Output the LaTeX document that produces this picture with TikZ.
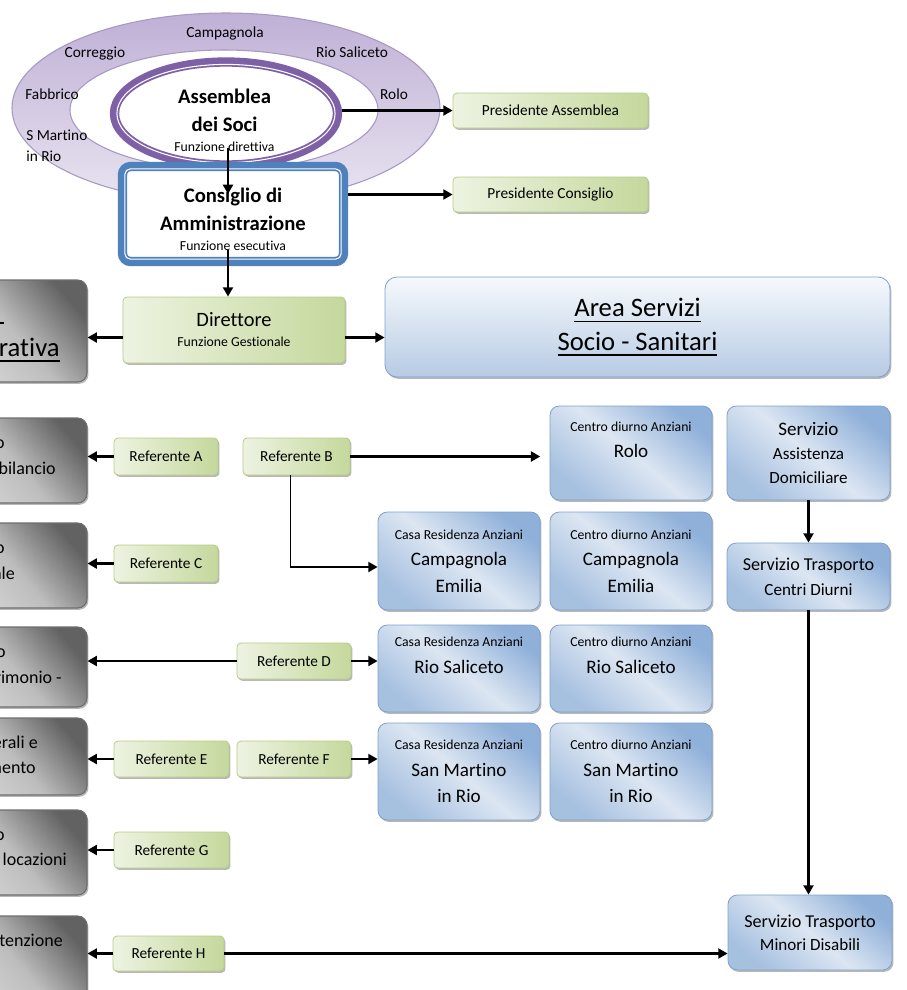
\documentclass[tikz,border=0pt]{standalone}
\usepackage{fontspec}
\setmainfont{Carlito}[Ligatures=NoCommon]
\usetikzlibrary{arrows.meta,shadows,shapes.geometric}
\definecolor{ringA}{HTML}{BFB0D6}
\definecolor{ringB}{HTML}{E9E4F0}
\definecolor{ringD}{HTML}{A898C2}
\definecolor{assemD}{HTML}{7D60A6}
\definecolor{consD}{HTML}{4F81BD}
\definecolor{grnL}{HTML}{EDF3E1}
\definecolor{grnR}{HTML}{C5D89C}
\definecolor{grnD}{HTML}{B5CC85}
\definecolor{bluT}{HTML}{8FB0D9}
\definecolor{bluM}{HTML}{DCE6F2}
\definecolor{bluB}{HTML}{A6C0E0}
\definecolor{bluD}{HTML}{7FA0CC}
\definecolor{areaT}{HTML}{F6F9FC}
\definecolor{areaB}{HTML}{B7CBE4}
\definecolor{gryT}{HTML}{626262}
\definecolor{gryM}{HTML}{BDBDBD}
\definecolor{gryB}{HTML}{D8D8D8}
\definecolor{gryD}{HTML}{6E6E6E}
\newcommand\fzS{\fontsize{10.3pt}{12pt}\selectfont}
\newcommand\fzM{\fontsize{11.5pt}{14pt}\selectfont}
\newcommand\fzX{\fontsize{14.3pt}{17pt}\selectfont}
\newcommand\fzG{\fontsize{13.5pt}{17pt}\selectfont}
\newcommand\fzH{\fontsize{20pt}{24pt}\selectfont}
\newcommand\myul[1]{\setbox0\hbox{#1}\rlap{\rule[-4.2pt]{\wd0}{1.3pt}}\box0}
\begin{document}
\begin{tikzpicture}[x=0.75pt,y=-0.75pt,
  sz/.style 2 args={minimum width=#1*0.75pt, minimum height=#2*0.75pt},
  arr/.style={-{Triangle[length=7pt,width=7.5pt]}, line width=1.6pt},
  shd/.style={drop shadow={shadow xshift=1.1pt, shadow yshift=-1.4pt, fill=black, opacity=0.28}},
  lbl/.style={font=\fzM, inner sep=0pt},
  grn/.style={draw=grnD, line width=0.6pt, rounded corners=3pt, left color=grnL, right color=grnR, shd, inner sep=0pt, font=\fzM, align=center},
  svc/.style={draw=bluD, line width=0.6pt, rounded corners=7pt, top color=bluT, bottom color=bluB, middle color=bluM, shading angle=-40, shd, inner sep=0pt, align=center},
  gry/.style={draw=gryD, line width=0.8pt, rounded corners=7pt, top color=gryT, bottom color=gryB, middle color=gryM, shading angle=-50, shd, inner sep=0pt},
  gtxt/.style={font=\fzG, anchor=base east, inner sep=0pt},
]
\useasboundingbox (0,0) rectangle (907,990);

% ---- ring of municipalities
\shade[even odd rule, top color=ringA, bottom color=ringB, draw=ringD, line width=0.8pt]
  (226,108) ellipse [x radius=214, y radius=95]
  (224,110) ellipse [x radius=154, y radius=60];
\node[lbl, anchor=base] (lCamp) at (225,37) {Campagnola};
\node[lbl, anchor=base] (lCorr) at (95,57) {Correggio};
\node[lbl, anchor=base] (lRioS) at (352,57) {Rio Saliceto};
\node[lbl, anchor=base] (lFabb) at (52,99) {Fabbrico};
\node[lbl, anchor=base] (lRolo) at (394,99) {Rolo};
\node[lbl, anchor=base west] (lSMar) at (26,140) {S Martino};
\node[lbl, anchor=base west] (lInRio) at (26,161) {in Rio};

% ---- Assemblea
\node[ellipse, minimum width=223*0.75pt, minimum height=103*0.75pt, draw=assemD, line width=7pt, fill=white, inner sep=0pt] (assem) at (226,113.5) {};
\draw[white, line width=0.8pt] (226,113.5) ellipse [x radius=109.1, y radius=49.1];
\node[align=center, inner sep=0pt, font=\fontsize{15.5pt}{21pt}\selectfont\bfseries] (assemT) at (224.5,120.7)
  {Assemblea\\dei Soci\\[-6pt]{\fzS\mdseries Funzione direttiva}};

% ---- Consiglio
\node[rectangle, rounded corners=6pt, sz={221}{95}, draw=consD, line width=7pt, fill=white, inner sep=0pt] (cons) at (233,214) {};
\draw[white, line width=0.8pt, rounded corners=4pt] (124.9,168.9) rectangle (341.1,259.1);
\node[align=center, inner sep=0pt, font=\fontsize{15.5pt}{21pt}\selectfont\bfseries] (consT) at (233,218.8)
  {Consiglio di\\Amministrazione\\[-6pt]{\fzS\mdseries Funzione esecutiva}};

% ---- presidents and director
\node[grn, sz={195}{35}] (presA) at (550.5,110.5) {Presidente Assemblea};
\node[grn, sz={195}{35}] (presC) at (550.5,194.5) {Presidente Consiglio};
\node[grn, sz={222}{66}, font=\fontsize{15.3pt}{15pt}\selectfont] (dir) at (234,330) {Direttore\\{\fzS Funzione Gestionale}};

% ---- grey administrative boxes (cut by the left edge)
\node[gry, sz={147}{102}] (amm) at (13.5,331) {};
\node[gtxt, font=\fzH] (ammT1) at (4,318) {\myul{Area\ }};
\node[gtxt, font=\fzH] (ammT2) at (60,356) {\myul{Amministrativa}};
\node[gry, sz={147}{85}] (gA) at (13.5,460.5) {};
\node[gtxt] (gAT1) at (5,448) {Servizio};
\node[gtxt] (gAT2) at (56,474) {Contabilità e bilancio};
\node[gry, sz={147}{85}] (gC) at (13.5,565.5) {};
\node[gtxt] (gCT1) at (5,553) {Servizio};
\node[gtxt] (gCT2) at (15,579) {Personale};
\node[gry, sz={147}{80}] (gD) at (13.5,667) {};
\node[gtxt] (gDT1) at (6,657) {Servizio};
\node[gtxt] (gDT2) at (62,683) {Patrimonio -};
\node[gry, sz={147}{77}] (gE) at (13.5,756.5) {};
\node[gtxt] (gET1) at (38,748) {Servizi Generali e};
\node[gtxt] (gET2) at (36,773) {Approvvigionamento};
\node[gry, sz={147}{85}] (gG) at (13.5,852.5) {};
\node[gtxt] (gGT1) at (5,840) {Servizio};
\node[gtxt] (gGT2) at (67,865) {Contratti e locazioni};
\node[gry, sz={147}{84}] (gH) at (13.5,958) {};
\node[gtxt] (gHT1) at (63,946) {Manutenzione};

% ---- referents
\node[grn, sz={104}{37}] (refA) at (166,456.5) {Referente A};
\node[grn, sz={107}{37}] (refB) at (296.5,456.5) {Referente B};
\node[grn, sz={104}{37}] (refC) at (166,563.5) {Referente C};
\node[grn, sz={114}{36}] (refD) at (294,661) {Referente D};
\node[grn, sz={115}{36}] (refE) at (171.5,759) {Referente E};
\node[grn, sz={114}{36}] (refF) at (294,759) {Referente F};
\node[grn, sz={115}{36}] (refG) at (171.5,850) {Referente G};
\node[grn, sz={111}{35}] (refH) at (168.5,953.5) {Referente H};

% ---- socio-sanitary area
\node[draw=bluD, line width=0.6pt, rounded corners=9pt, top color=areaT, bottom color=areaB, shd, sz={505}{100}, align=center, inner sep=0pt, font=\fontsize{20pt}{25pt}\selectfont] (area) at (637.5,327)
  {\myul{Area Servizi}\\\myul{Socio - Sanitari}};
\node[svc, sz={162}{94}, font=\fontsize{14.3pt}{20pt}\selectfont, text depth=20pt] (cdRolo) at (631,453) {{\fzS Centro diurno Anziani}\\Rolo};
\node[svc, sz={163}{94}, font=\fontsize{12.8pt}{18pt}\selectfont] (sad) at (808.5,453) {{\fzX Servizio}\\Assistenza\\Domiciliare};
\node[svc, sz={162}{98}, font=\fontsize{14.3pt}{20pt}\selectfont] (crCamp) at (459,561) {{\fzS Casa Residenza Anziani}\\Campagnola\\Emilia};
\node[svc, sz={162}{98}, font=\fontsize{14.3pt}{20pt}\selectfont] (cdCamp) at (631,561) {{\fzS Centro diurno Anziani}\\Campagnola\\Emilia};
\node[svc, sz={163}{67}, font=\fontsize{12.8pt}{19pt}\selectfont] (stcd) at (808.5,576.5) {{\fontsize{13.6pt}{19pt}\selectfont Servizio Trasporto}\\Centri Diurni};
\node[svc, sz={162}{87}, font=\fontsize{14.3pt}{20pt}\selectfont, text depth=20pt] (crRio) at (459,668.5) {{\fzS Casa Residenza Anziani}\\Rio Saliceto};
\node[svc, sz={162}{87}, font=\fontsize{14.3pt}{20pt}\selectfont, text depth=20pt] (cdRio) at (631,668.5) {{\fzS Centro diurno Anziani}\\Rio Saliceto};
\node[svc, sz={162}{97}, font=\fontsize{14.3pt}{20pt}\selectfont] (crSM) at (459,771.5) {{\fzS Casa Residenza Anziani}\\San Martino\\in Rio};
\node[svc, sz={162}{97}, font=\fontsize{14.3pt}{20pt}\selectfont] (cdSM) at (631,771.5) {{\fzS Centro diurno Anziani}\\San Martino\\in Rio};
\node[svc, sz={164}{75}, font=\fontsize{12.8pt}{17pt}\selectfont] (stmd) at (810,932.5) {{\fontsize{13.6pt}{17pt}\selectfont Servizio Trasporto}\\Minori Disabili};

% ---- connectors
\coordinate (c1) at (228,148);
\coordinate (c2) at (228,194);
\coordinate (c3) at (228,250);
\coordinate (yD) at (0,337.5);
\coordinate (bB) at (290,567);
\draw[arr] (c1) -- (c2);
\draw[arr] (c3) -- (c3 |- dir.north);
\draw[arr] (assem.east |- presA) -- (presA.west);
\draw[arr] (cons.east |- presC) -- (presC.west);
\draw[arr] (dir.west |- yD) -- (amm.east |- yD);
\draw[arr] (dir.east |- yD) -- (area.west |- yD);
\draw[arr] (refA.west) -- (gA.east |- refA.west);
\draw[arr, shorten >=7pt] (refB.east) -- (cdRolo.west |- refB.east);
\draw[line width=0.75pt] (refB.south -| bB) -- (bB);
\draw[arr] (bB) -- (crCamp.west |- bB);
\draw[arr] (refC.west) -- (gC.east |- refC.west);
\draw[arr] (refD.west) -- (gD.east |- refD.west);
\draw[arr] (refD.east) -- (crRio.west |- refD.east);
\draw[arr] (refE.west) -- (gE.east |- refE.west);
\draw[arr] (refF.east) -- (crSM.west |- refF.east);
\draw[arr] (refG.west) -- (gG.east |- refG.west);
\draw[arr] (refH.west) -- (gH.east |- refH.west);
\draw[arr] (refH.east) -- (stmd.west |- refH.east);
\draw[arr] (sad.south) -- (stcd.north);
\draw[arr] (stcd.south) -- (stcd.south |- stmd.north);
\end{tikzpicture}
\end{document}
